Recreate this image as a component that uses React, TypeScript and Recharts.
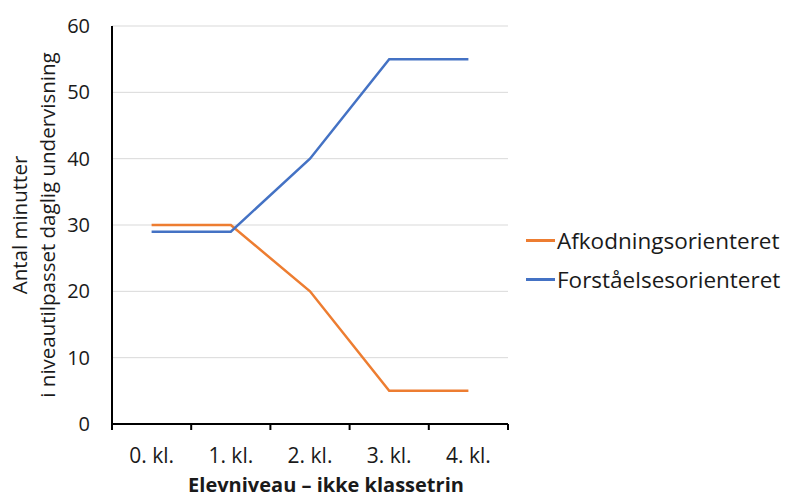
import React from "react";
import { LineChart, Line, XAxis, YAxis, CartesianGrid, Legend } from "recharts";

const categories = ["0. kl.", "1. kl.", "2. kl.", "3. kl.", "4. kl."];
const afkodning = [30, 30, 20, 5, 5];
const forstaaelse = [29, 29, 40, 55, 55];
const yTicks = [0, 10, 20, 30, 40, 50, 60];

const seriesNames = ["Afkodningsorienteret", "Forståelsesorienteret"];
const colors = ["#ED7D31", "#4472C4"];

const data = categories.map((c, i) => ({
  cat: c,
  a: afkodning[i],
  f: forstaaelse[i],
}));

const FONT = "'Open Sans', sans-serif";
const TXT = "#1a1a1a";
const PLOT_W = 396;
const BAND = PLOT_W / categories.length;

const CatTick = (props: any) => {
  const { x, y, payload, index } = props;
  const half = BAND / 2;
  const last = index === categories.length - 1;
  return (
    <g>
      <line x1={x - half} x2={x - half} y1={y} y2={y + 6} stroke="#000" strokeWidth={2} />
      {last && (
        <line x1={x + half} x2={x + half} y1={y} y2={y + 6} stroke="#000" strokeWidth={2} />
      )}
      <text
        x={x}
        y={y + 24}
        dy="0.71em"
        textAnchor="middle"
        fontFamily={FONT}
        fontSize={21}
        fill={TXT}
      >
        {payload.value}
      </text>
    </g>
  );
};

const YLabel = () => (
  <g>
    <text
      transform="translate(27,225) rotate(-90)"
      textAnchor="middle"
      fontFamily={FONT}
      fontSize={20.5}
      fill={TXT}
    >
      Antal minutter
    </text>
    <text
      transform="translate(55,225) rotate(-90)"
      textAnchor="middle"
      fontFamily={FONT}
      fontSize={20.5}
      fill={TXT}
    >
      i niveautilpasset daglig undervisning
    </text>
  </g>
);

const XLabel = () => (
  <text
    x={326}
    y={492}
    textAnchor="middle"
    fontFamily={FONT}
    fontSize={20}
    fontWeight="bold"
    fill={TXT}
  >
    Elevniveau – ikke klassetrin
  </text>
);

const LegendContent = () => (
  <div style={{ fontFamily: FONT, fontSize: 22.5, color: TXT }}>
    {seriesNames.map((n, i) => (
      <div
        key={n}
        style={{ display: "flex", alignItems: "center", height: 39 }}
      >
        <span
          style={{
            display: "inline-block",
            width: 29,
            height: 3,
            background: colors[i],
            marginRight: 2,
          }}
        />
        <span>{n}</span>
      </div>
    ))}
  </div>
);

export default function App() {
  return (
    <div style={{ position: "absolute", left: 0, top: 0, background: "#fff" }}>
      <LineChart
        width={792}
        height={498}
        data={data}
        margin={{ top: 26, right: 18, left: 0, bottom: 0 }}
      >
        <CartesianGrid vertical={false} stroke="#d9d9d9" strokeWidth={1} />
        <XAxis
          dataKey="cat"
          height={74}
          padding={{ left: BAND / 2, right: BAND / 2 }}
          stroke="#000"
          strokeWidth={2}
          tickLine={false}
          tickSize={0}
          tickMargin={0}
          interval={0}
          tick={<CatTick />}
          label={<XLabel />}
        />
        <YAxis
          width={112}
          domain={[0, 60]}
          ticks={yTicks}
          interval={0}
          stroke="#000"
          strokeWidth={2}
          tickLine={false}
          tickMargin={16}
          tick={{ fontFamily: FONT, fontSize: 20, fill: TXT }}
          label={<YLabel />}
        />
        <Line
          dataKey="a"
          name={seriesNames[0]}
          stroke={colors[0]}
          strokeWidth={2.5}
          dot={false}
          isAnimationActive={false}
        />
        <Line
          dataKey="f"
          name={seriesNames[1]}
          stroke={colors[1]}
          strokeWidth={2.5}
          dot={false}
          isAnimationActive={false}
        />
        <Legend
          layout="vertical"
          align="right"
          verticalAlign="middle"
          width={266}
          content={<LegendContent />}
          wrapperStyle={{ left: 526, top: 221, right: "auto" }}
        />
      </LineChart>
    </div>
  );
}
